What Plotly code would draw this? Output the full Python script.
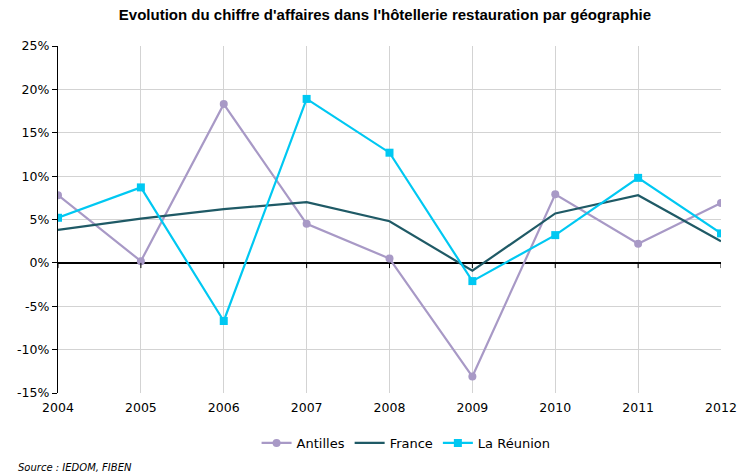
import plotly.graph_objects as go

years = [2004, 2005, 2006, 2007, 2008, 2009, 2010, 2011, 2012]
antilles = [7.8, 0.2, 18.3, 4.5, 0.5, -13.1, 7.9, 2.2, 6.9]
france = [3.8, 5.1, 6.2, 7.0, 4.8, -0.9, 5.7, 7.8, 2.5]
reunion = [5.2, 8.7, -6.7, 18.9, 12.7, -2.1, 3.2, 9.8, 3.4]
y_ticks = [-15, -10, -5, 0, 5, 10, 15, 20, 25]
y_labels = ["-15%", "-10%", "-5%", "0%", "5%", "10%", "15%", "20%", "25%"]

FONT = "DejaVu Sans"

fig = go.Figure()
fig.add_trace(go.Scatter(x=years, y=antilles, name="Antilles", mode="lines+markers",
                         line=dict(color="#A899C6", width=2.2),
                         marker=dict(symbol="circle", size=8, color="#A899C6")))
fig.add_trace(go.Scatter(x=years, y=france, name="France", mode="lines",
                         line=dict(color="#1F5A66", width=2.2)))
fig.add_trace(go.Scatter(x=years, y=reunion, name="La Réunion", mode="lines+markers",
                         line=dict(color="#00C8F2", width=2.2),
                         marker=dict(symbol="square", size=8, color="#00C8F2")))

# small tick marks below the zero line at each year
for yr in years:
    fig.add_shape(type="line", xref="x", yref="y", x0=yr, x1=yr, y0=0, y1=-0.6,
                  line=dict(color="black", width=1))

fig.update_layout(
    width=749, height=475,
    paper_bgcolor="white", plot_bgcolor="white",
    margin=dict(l=58, r=16, t=46, b=82),
    title=dict(text="<b>Evolution du chiffre d'affaires dans l'hôtellerie restauration par géographie</b>",
               x=0.514, xanchor="center", xref="container", y=0.968, yanchor="middle",
               font=dict(family="Liberation Sans", size=15, color="black")),
    font=dict(family=FONT, size=12, color="black"),
    xaxis=dict(range=[2004, 2012], tickmode="array", tickvals=years,
               ticktext=[str(y) for y in years],
               showgrid=True, gridcolor="#D3D3D3", gridwidth=1,
               showline=False, zeroline=False, ticks="", ticklen=0,
               ticklabelstandoff=5,
               tickfont=dict(family=FONT, size=12.5)),
    yaxis=dict(range=[-15, 25], tickmode="array", tickvals=y_ticks, ticktext=y_labels,
               showgrid=True, gridcolor="#D3D3D3", gridwidth=1,
               showline=True, linecolor="black", linewidth=1.2,
               ticks="outside", ticklen=5, tickcolor="black",
               zeroline=True, zerolinecolor="black", zerolinewidth=1.5,
               tickfont=dict(family=FONT, size=12.5)),
    legend=dict(orientation="h", x=0.525, xanchor="center", y=-0.144, yanchor="middle",
                font=dict(family=FONT, size=13), itemwidth=30, traceorder="normal"),
    showlegend=True,
    annotations=[dict(text="<i>Source : IEDOM, FIBEN</i>", xref="paper", yref="paper",
                      x=-0.064, y=-0.215, xanchor="left", yanchor="middle", showarrow=False,
                      font=dict(family=FONT, size=10, color="black"))],
)

fig.write_html("out.html", config={"displayModeBar": False},
               post_script="document.body.style.margin='0';document.body.style.padding='0';")
